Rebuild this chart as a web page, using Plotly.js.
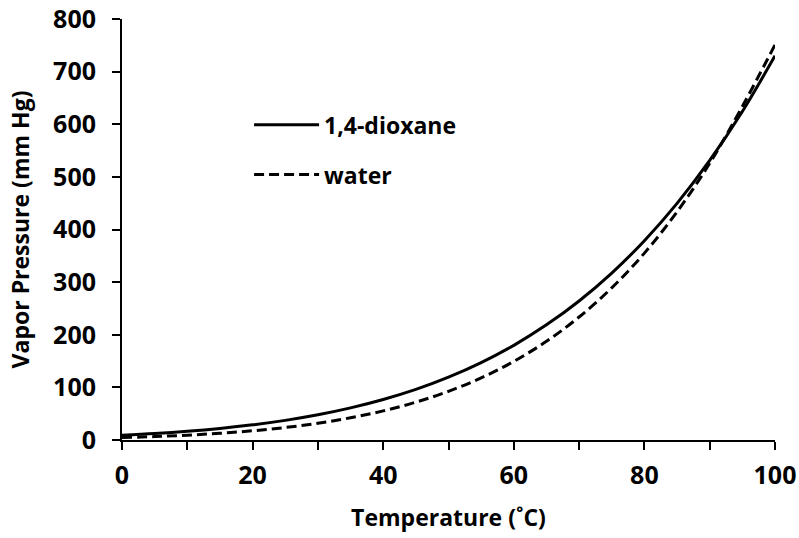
<!DOCTYPE html>
<html>
<head>
<meta charset="utf-8">
<script src="https://cdn.plot.ly/plotly-3.0.1.min.js"></script>
<style>html,body{margin:0;padding:0;background:#fff;}#chart{width:799px;height:538px;}</style>
</head>
<body>
<div id="chart"></div>
<script>
var temperature = [0, 5, 10, 15, 20, 25, 30, 35, 40, 45, 50, 55, 60, 65, 70, 75, 80, 85, 90, 95, 100];
var dioxane = [9.2, 12.4, 16.6, 22.0, 28.8, 37.3, 47.9, 61.0, 76.9, 96.1, 119.4, 147.1, 179.9, 218.8, 264.2, 317.2, 378.7, 449.6, 531.2, 624.3, 730.1];
var water = [4.6, 6.5, 9.2, 12.8, 17.5, 23.8, 31.8, 42.2, 55.3, 71.9, 92.5, 118.0, 149.4, 187.5, 233.7, 289.1, 355.1, 433.6, 525.8, 633.9, 751.0];
var seriesNames = ["1,4-dioxane", "water"];
var xTitle = "Temperature (˚C)";
var yTitle = "Vapor Pressure (mm Hg)";

var FONT = "Open Sans, sans-serif";
var traces = [
  {x: temperature, y: dioxane, name: seriesNames[0], type: "scatter", mode: "lines",
   line: {color: "#000", width: 3, shape: "spline"}, legendgroup: "a"},
  {x: temperature, y: water, name: seriesNames[1], type: "scatter", mode: "lines",
   line: {color: "#000", width: 3, dash: "10px,5px", shape: "spline"}, legendgroup: "b"}
];
var layout = {
  width: 799, height: 538,
  margin: {l: 122, r: 24, t: 19, b: 98},
  paper_bgcolor: "#fff", plot_bgcolor: "#fff",
  font: {family: FONT, color: "#000", size: 22, weight: "bold"},
  showlegend: true,
  legend: {x: 0.1946, y: 0.80, xanchor: "left", yanchor: "top", bgcolor: "rgba(0,0,0,0)",
           font: {family: FONT, size: 23, color: "#000", weight: "bold"},
           itemwidth: 65, tracegroupgap: 17},
  xaxis: {range: [0, 100], dtick: 20, tick0: 0, showgrid: false, zeroline: false,
          showline: true, linecolor: "#000", linewidth: 2,
          ticks: "outside", ticklen: 8, tickwidth: 2, tickcolor: "#000",
          minor: {dtick: 10, ticks: "outside", ticklen: 8, tickwidth: 2, tickcolor: "#000", showgrid: false},
          tickfont: {family: FONT, size: 25, color: "#000", weight: "bold"},
          ticklabelstandoff: 4,
          title: {text: xTitle, font: {family: FONT, size: 23, color: "#000", weight: "bold"}, standoff: 20}},
  yaxis: {range: [0, 800], dtick: 100, tick0: 0, showgrid: false, zeroline: false,
          showline: true, linecolor: "#000", linewidth: 2,
          ticks: "outside", ticklen: 8, tickwidth: 2, tickcolor: "#000",
          tickfont: {family: FONT, size: 25, color: "#000", weight: "bold"},
          ticklabelstandoff: 11,
          title: {text: yTitle, font: {family: FONT, size: 23, color: "#000", weight: "bold"}, standoff: 17}}
};
Plotly.newPlot("chart", traces, layout, {displayModeBar: false, staticPlot: true});
</script>
</body>
</html>
